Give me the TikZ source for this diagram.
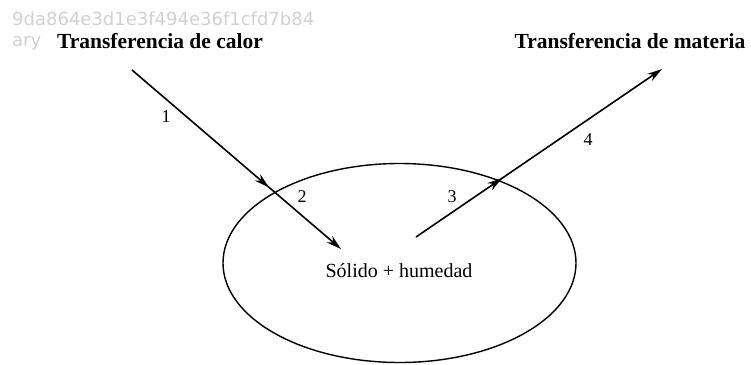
\documentclass[tikz,border=0pt]{standalone}
\usepackage{fontspec}
\setmainfont{Liberation Serif}
\newfontfamily\wmfont{DejaVu Sans}
\usetikzlibrary{arrows.meta,decorations.markings,shapes.geometric}
\begin{document}
\begin{tikzpicture}[x=1pt,y=-1pt,
  flow/.style={line width=1.6pt,-{Stealth[length=15pt,width=8.5pt]},
    postaction={decorate},
    decoration={markings,mark=at position #1 with {\arrow{Stealth[length=15pt,width=8.5pt]}}}},
  head/.style={font=\fontsize{21.5}{24}\selectfont\bfseries,inner sep=0pt},
  num/.style={font=\fontsize{18}{20}\selectfont,inner sep=0pt},
  wm/.style={font=\wmfont\fontsize{18}{20}\selectfont,text=black!18,inner sep=0pt,anchor=west}]
\useasboundingbox (0,0) rectangle (751,364);
\node[wm] (wm1) at (12,19) {9da864e3d1e3f494e36f1cfd7b84};
\node[wm] (wm2) at (12,43) {ary};
\node[head] (heat) at (160,41) {Transferencia de calor};
\node[head] (mass) at (630,41) {Transferencia de materia};
\node[draw,line width=1.4pt,ellipse,minimum width=353pt,minimum height=199pt,inner sep=0pt] (body) at (399.5,263) {};
\node[font=\fontsize{20}{22}\selectfont,inner sep=0pt] (lab) at (399,271) {Sólido + humedad};
\coordinate (a1) at (132,70);
\coordinate (a2) at (341,249);
\coordinate (b1) at (416,237);
\coordinate (b2) at (662,69);
\draw[flow=0.655] (a1) -- (a2);
\draw[flow=0.35] (b1) -- (b2);
\node[num] (n1) at (166,117) {1};
\node[num] (n2) at (302,197) {2};
\node[num] (n3) at (452,197) {3};
\node[num] (n4) at (588,140) {4};
\end{tikzpicture}
\end{document}
